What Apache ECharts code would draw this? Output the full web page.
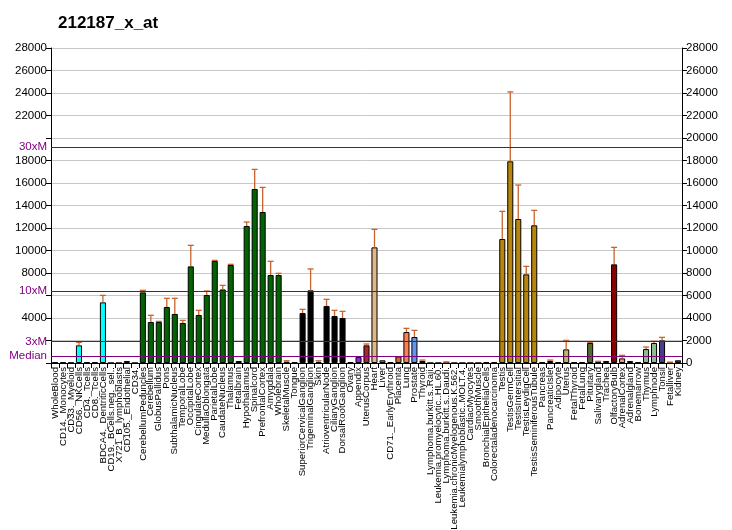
<!DOCTYPE html>
<html><head><meta charset="utf-8">
<script src="https://cdn.jsdelivr.net/npm/echarts@6/dist/echarts.min.js"></script>
<style>html,body{margin:0;padding:0;background:#fff}#c{width:732px;height:530px}</style>
</head><body><div id="c"></div>
<script>
const categories = ["WholeBlood","CD14._Monocytes","CD33._Myeloid","CD56._NKCells","CD4._Tcells","CD8._Tcells","BDCA4._DentriticCells","CD19._BCells.neg._sel..","X721_B_lymphoblasts","CD105._Endothelial","CD34.",
"CerebellumPeduncles","Cerebellum","GlobusPallidus","Pons","SubthalamicNucleus","TemporalLobe","OccipitalLobe","CingulateCortex","MedullaOblongata","ParietalLobe","CaudateNucleus","Thalamus","Fetalbrain","Hypothalamus","Spinalcord","PrefrontalCortex","Amygdala","Wholebrain",
"SkeletalMuscle","Tongue","SuperiorCervicalGanglion","TrigeminalGanglion","Skin","AtrioventricularNode","CiliaryGanglion","DorsalRootGanglion","Ovary",
"Appendix","UterusCorpus","Heart","Liver","CD71._EarlyErythroid","Placenta","Lung","Prostate","Thyroid",
"Lymphoma.burkitt.s..Raji.","Leukemia.promyelocytic..HL.60.","Lymphoma.burkitt.s..Daudi.","Leukemia.chronicMyelogenous.K.562.","Leukemialymphoblastic..MOLT.4.","CardiacMyocytes","SmoothMuscle","BronchialEpithelialCells","Colorectaladenocarcinoma",
"Testis","TestisGermCell","TestisIntersitial","TestisLeydigCell","TestisSeminiferousTubule",
"Pancreas","PancreaticIslet","Adipocyte","Uterus","FetalThyroid","FetalLung","Pituitary","Salivarygland","Trachea","OlfactoryBulb","AdrenalCortex","Adrenalgland","Bonemarrow","Thymus","Lymphnode","Tonsil","Fetalliver","Kidney"];

const values = [60,60,20,1570,60,60,5390,0,0,180,0,
6280,3640,3640,4980,4360,3560,8590,4270,6040,9070,6540,8710,180,12180,15470,13420,7820,7820,
120,60,4440,6460,100,5070,4180,4000,60,
530,1570,10280,240,60,590,2750,2310,180,
0,0,30,0,0,0,0,60,60,
11020,17930,12800,7880,12240,
60,180,60,1210,60,60,1780,60,180,8770,410,180,60,1240,1780,2010,30,240];

const errTops = [null,null,null,1840,null,null,6010,null,null,null,null,
6460,4240,3700,5750,5750,3790,10460,4680,6400,9120,6900,8770,null,12530,17210,15610,9040,7970,
200,null,4770,8360,200,5660,4680,4590,null,
null,1690,11880,null,null,null,3080,2900,260,
null,null,100,null,null,null,null,null,null,
13480,24100,15820,8590,13570,
null,260,null,2010,null,null,1840,150,null,10280,680,null,null,1420,1930,2280,80,null];

const barColors = ["#00FFFF","#00FFFF","#00FFFF","#00FFFF","#00FFFF","#00FFFF","#00FFFF","#00FFFF","#00FFFF","#00FFFF","#00FFFF",
"#006400","#006400","#006400","#006400","#006400","#006400","#006400","#006400","#006400","#006400","#006400","#006400","#006400","#006400","#006400","#006400","#006400","#006400",
"#000000","#000000","#000000","#000000","#000000","#000000","#000000","#000000","#000000",
"#8A2BE2","#A52A2A","#DEB887","#5F9EA0","#000000","#D2691E","#FF7F50","#6495ED","#DC143C",
"#000000","#000000","#000000","#000000","#000000","#000000","#000000","#000000","#000000",
"#B8860B","#B8860B","#B8860B","#B8860B","#B8860B",
"#000000","#E9967A","#000000","#BDB76B","#000000","#000000","#556B2F","#E9967A","#9932CC","#8B0000","#E9967A","#FFA07A","#000000","#8FBC8F","#8FBC8F","#483D8B","#E9967A","#2F4F4F"];

const refNames = ["Median","3xM","10xM","30xM"];
const refValues = [640,1920,6400,19200];
const hiddenLeft = [0,2000,6000,20000];

const chart = echarts.init(document.getElementById('c'), null, {renderer:'canvas'});
const font = 'Liberation Sans, Arial, sans-serif';
const purple = '#800080';

const errData = categories.map((c,i)=>[i, values[i], errTops[i]]).filter(d=>d[2]!==null);

chart.setOption({
  animation:false,
  backgroundColor:'#fff',
  title:{text:'212187_x_at',left:53,top:10,textStyle:{fontFamily:font,fontSize:17,fontWeight:'bold',color:'#000'}},
  grid:{left:51,right:50,top:48,bottom:167,containLabel:false,outerBoundsMode:'none'},
  xAxis:{type:'category',data:categories,
    axisLine:{lineStyle:{color:'#000',width:1}},
    axisTick:{show:true,interval:0,length:5,lineStyle:{color:'#000'}},
    axisLabel:{interval:0,rotate:90,fontFamily:font,fontSize:9.6,color:'#000',margin:4}},
  yAxis:[
    {type:'value',min:0,max:28000,interval:2000,position:'left',
     axisLine:{show:true,lineStyle:{color:'#000'}},
     axisTick:{show:true,length:5,lineStyle:{color:'#000'}},
     splitLine:{show:true,lineStyle:{color:'#C8C8C8',width:1}},
     axisLabel:{fontFamily:font,fontSize:11.5,color:'#000',margin:4,
       formatter:v=>hiddenLeft.indexOf(v)>=0?'':String(v)}},
    {type:'value',min:0,max:28000,interval:2000,position:'right',
     axisLine:{show:true,lineStyle:{color:'#000'}},
     axisTick:{show:true,length:5,lineStyle:{color:'#000'}},
     splitLine:{show:false},
     axisLabel:{fontFamily:font,fontSize:11.5,color:'#000',margin:4,formatter:v=>String(v)}}
  ],
  series:[
    {type:'bar',data:values.map((v,i)=>({value:v,itemStyle:{color:barColors[i]}})),
     barWidth:'76%',
     itemStyle:{borderColor:'#000',borderWidth:1},
     markLine:{silent:true,symbol:['none','none'],
       lineStyle:{color:purple,width:1.2,type:'solid'},
       emphasis:{disabled:true},
       label:{show:true,position:'start',color:purple,fontFamily:font,fontSize:11.5,distance:4,formatter:p=>p.name},
       data:refNames.map((n,k)=>({name:n,yAxis:refValues[k],lineStyle:{color:purple}}))},
     z:3},
    {type:'custom',data:errData,z:4,
     renderItem:(params,api)=>{
       const x=api.value(0), v=api.value(1), e=api.value(2);
       const p0=api.coord([x,v]), p1=api.coord([x,e]);
       const st={stroke:'#C8642D',lineWidth:1.3};
       return {type:'group',children:[
         {type:'line',shape:{x1:p0[0],y1:p0[1],x2:p1[0],y2:p1[1]},style:st},
         {type:'line',shape:{x1:p1[0]-3,y1:p1[1],x2:p1[0]+3,y2:p1[1]},style:st}
       ]};
     }}
  ]
});
</script></body></html>
